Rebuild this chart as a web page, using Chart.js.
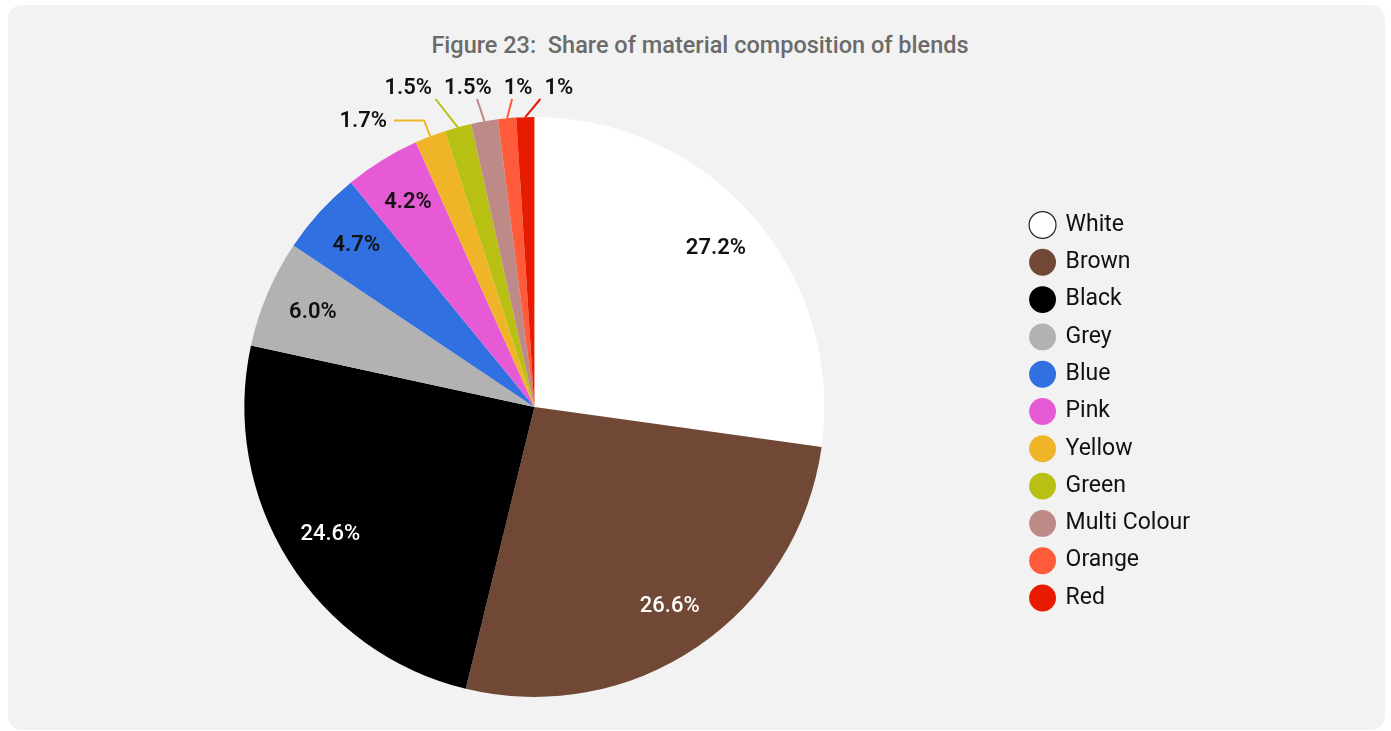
<!DOCTYPE html>
<html>
<head>
<meta charset="utf-8">
<script src="https://cdn.jsdelivr.net/npm/chart.js@4/dist/chart.umd.min.js"></script>
<style>
  html, body { margin: 0; padding: 0; background: #fff; }
  #card {
    position: absolute; left: 8px; top: 5px; width: 1377px; height: 725px;
    background: #f2f2f2; border-radius: 14px;
  }
  #title {
    position: absolute; left: 0; top: 31px; width: 1400px; text-align: center;
    font: 500 23.5px Roboto, sans-serif; color: #6b6b6b; white-space: pre;
  }
  #wrap { position: absolute; left: 0; top: 0; width: 1391px; height: 731px; }
</style>
</head>
<body>
<div id="card"></div>
<div id="title">Figure 23:  Share of material composition of blends</div>
<div id="wrap"><canvas id="pie"></canvas></div>
<script>
const categories = ['White', 'Brown', 'Black', 'Grey', 'Blue', 'Pink', 'Yellow', 'Green', 'Multi Colour', 'Orange', 'Red'];
const shares = [27.2, 26.6, 24.6, 6.0, 4.7, 4.2, 1.7, 1.5, 1.5, 1, 1];
const valueLabels = ['27.2%', '26.6%', '24.6%', '6.0%', '4.7%', '4.2%', '1.7%', '1.5%', '1.5%', '1%', '1%'];
const colours = ['#ffffff', '#704835', '#000000', '#b1b2b1', '#3070e0', '#e65ad6', '#f0b428', '#b8c014', '#be8a88', '#ff5a3a', '#e81a00'];
const lightText = ['Brown', 'Black'];

// percentage labels: inside for big slices, leader lines for the thin ones
const sliceLabels = {
  id: 'sliceLabels',
  afterDatasetsDraw(chart) {
    const { ctx } = chart;
    const meta = chart.getDatasetMeta(0);
    const topRow = [];
    ctx.save();
    ctx.lineWidth = 2;
    meta.data.forEach((arc, i) => {
      const { x, y, startAngle, endAngle, outerRadius: r } =
        arc.getProps(['x', 'y', 'startAngle', 'endAngle', 'outerRadius'], true);
      const mid = (startAngle + endAngle) / 2;
      const cos = Math.cos(mid), sin = Math.sin(mid);
      const light = lightText.includes(categories[i]);
      ctx.font = (light ? '500' : '600') + ' 22px Roboto';

      if (shares[i] >= 4) {
        ctx.fillStyle = light ? '#fff' : '#111';
        ctx.textAlign = 'center';
        ctx.textBaseline = 'middle';
        ctx.fillText(valueLabels[i], x + cos * r * 0.83, y + sin * r * 0.83);
        return;
      }

      const ex = x + cos * r, ey = y + sin * r;
      let d = (mid + Math.PI / 2) % (Math.PI * 2);
      if (d < 0) d += Math.PI * 2;
      const fromTop = Math.min(d, Math.PI * 2 - d) * 180 / Math.PI;

      if (fromTop > 18) {
        // elbow line out to the side
        const side = cos < 0 ? -1 : 1;
        const bx = x + cos * (r + 17), by = y + sin * (r + 17);
        ctx.strokeStyle = colours[i];
        ctx.beginPath();
        ctx.moveTo(ex, ey);
        ctx.lineTo(bx, by);
        ctx.lineTo(bx + side * 30, by);
        ctx.stroke();
        ctx.fillStyle = '#111';
        ctx.textAlign = side < 0 ? 'right' : 'left';
        ctx.textBaseline = 'middle';
        ctx.fillText(valueLabels[i], bx + side * 37, by + 1);
      } else {
        topRow.push({ i, ex, ey, cy: y, r, lx: x + cos / -sin * (r + 31), w: ctx.measureText(valueLabels[i]).width });
      }
    });

    // spread the top row so labels don't collide
    topRow.sort((a, b) => a.lx - b.lx);
    for (let it = 0; it < 100; it++) {
      for (let j = 1; j < topRow.length; j++) {
        const need = (topRow[j - 1].w + topRow[j].w) / 2 + 12;
        const over = topRow[j - 1].lx + need - topRow[j].lx;
        if (over > 0) {
          topRow[j - 1].lx -= over / 2;
          topRow[j].lx += over / 2;
        }
      }
    }
    ctx.font = '600 22px Roboto';
    topRow.forEach(l => {
      ctx.strokeStyle = colours[l.i];
      ctx.beginPath();
      ctx.moveTo(l.ex, l.ey);
      ctx.lineTo(l.ex + (l.lx - l.ex) * 0.45, l.cy - l.r - 18);
      ctx.stroke();
      ctx.fillStyle = '#111';
      ctx.textAlign = 'center';
      ctx.textBaseline = 'middle';
      ctx.fillText(valueLabels[l.i], l.lx, l.cy - l.r - 29);
    });
    ctx.restore();
  }
};

new Chart(document.getElementById('pie'), {
  type: 'pie',
  data: {
    labels: categories,
    datasets: [{
      data: shares,
      backgroundColor: colours,
      borderWidth: 0,
    }],
  },
  options: {
    responsive: true,
    maintainAspectRatio: false,
    animation: false,
    layout: { padding: { top: 117, bottom: 34, left: 52, right: 191 } },
    plugins: {
      title: { display: false },
      tooltip: { enabled: false },
      legend: {
        position: 'right',
        // empty title only nudges the items down a little
        title: { display: true, text: '', font: { size: 0 }, padding: { top: 5, bottom: 4 } },
        labels: {
          usePointStyle: true,
          pointStyle: 'circle',
          boxWidth: 23,
          boxHeight: 19,
          padding: 14.3,
          color: '#111',
          font: { family: 'Roboto', size: 23 },
          generateLabels(chart) {
            const items = Chart.overrides.pie.plugins.legend.labels.generateLabels(chart);
            items.forEach(it => {
              it.strokeStyle = '#222';
              it.lineWidth = it.fillStyle === '#ffffff' ? 1.2 : 0;
            });
            return items;
          },
        },
      },
    },
  },
  plugins: [sliceLabels],
});
</script>
</body>
</html>
